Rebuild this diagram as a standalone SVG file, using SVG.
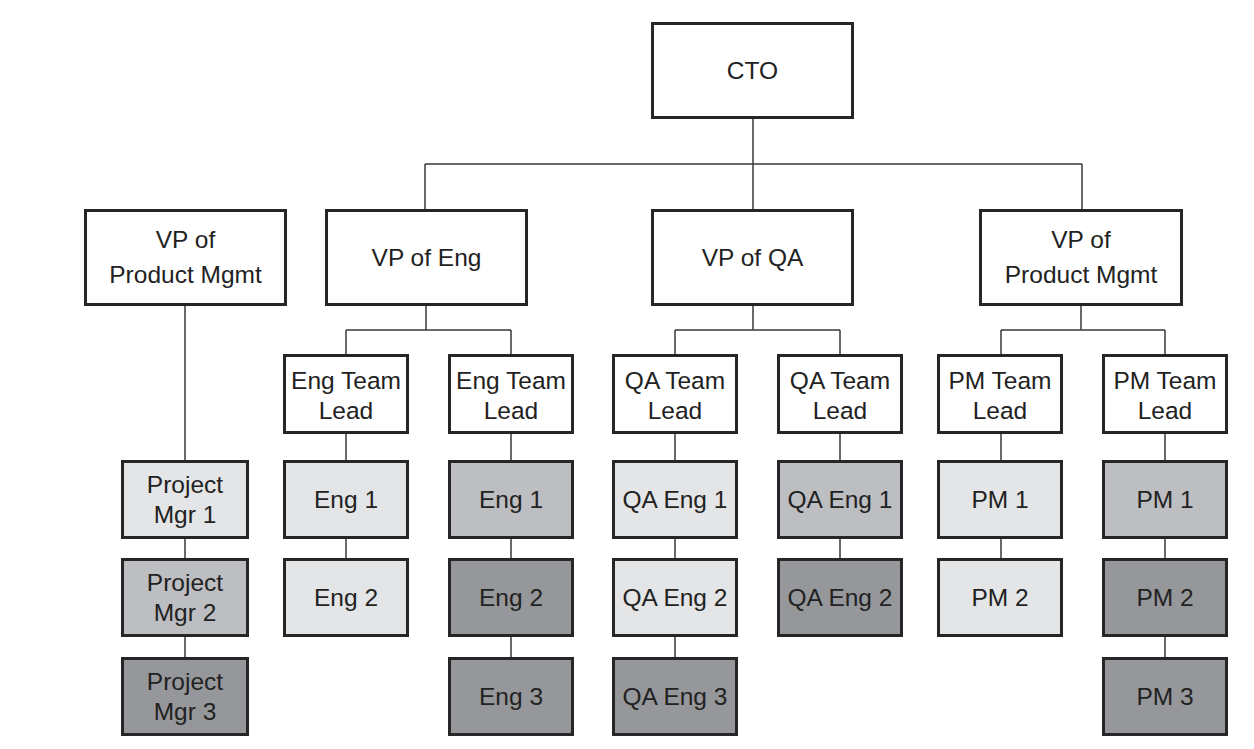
<svg xmlns="http://www.w3.org/2000/svg" width="1254" height="749" viewBox="0 0 1254 749">
<style>
  .box { stroke: #262626; stroke-width: 3; }
  .w { fill: #ffffff; }
  .l { fill: #e4e5e7; }
  .m { fill: #bdbec1; }
  .d { fill: #96979a; }
  .t { font-family: "Liberation Sans", Arial, sans-serif; font-size: 24.5px; fill: #222222; text-anchor: middle; }
  .c { fill: none; stroke: #3a3a3a; stroke-width: 1.5; }
</style>
<rect width="1254" height="749" fill="#ffffff"/>
<g id="connectors">
  <path class="c" d="M753 119 V164 M425 164 H1082 M425 164 V209 M753 164 V209 M1082 164 V209"/>
  <path class="c" d="M185 306 V460 M185 539 V558 M185 637 V657"/>
  <path class="c" d="M426 306 V330 M346 330 H511 M346 330 V354 M511 330 V354"/>
  <path class="c" d="M753 306 V330 M675 330 H840 M675 330 V354 M840 330 V354"/>
  <path class="c" d="M1081 306 V330 M1001 330 H1165 M1001 330 V354 M1165 330 V354"/>
  <path class="c" d="M346 434 V460 M346 539 V558"/>
  <path class="c" d="M511 434 V460 M511 539 V558 M511 637 V657"/>
  <path class="c" d="M675 434 V460 M675 539 V558 M675 637 V657"/>
  <path class="c" d="M840 434 V460 M840 539 V558"/>
  <path class="c" d="M1001 434 V460 M1001 539 V558"/>
  <path class="c" d="M1165 434 V460 M1165 539 V558 M1165 637 V657"/>
</g>
<g id="cto"><rect class="box w" x="652.5" y="23.5" width="200" height="94"/><text class="t" x="752.5" y="79">CTO</text></g>
<g id="vp-pm-left"><rect class="box w" x="85.5" y="210.5" width="200" height="94"/><text class="t" x="185.5" y="248">VP of</text><text class="t" x="185.5" y="283">Product Mgmt</text></g>
<g id="vp-eng"><rect class="box w" x="326.5" y="210.5" width="200" height="94"/><text class="t" x="426.5" y="266">VP of Eng</text></g>
<g id="vp-qa"><rect class="box w" x="652.5" y="210.5" width="200" height="94"/><text class="t" x="752.5" y="266">VP of QA</text></g>
<g id="vp-pm-right"><rect class="box w" x="980.5" y="210.5" width="201" height="94"/><text class="t" x="1081" y="248">VP of</text><text class="t" x="1081" y="283">Product Mgmt</text></g>

<g id="eng-tl-1"><rect class="box w" x="284.5" y="355.5" width="123" height="77"/><text class="t" x="346" y="389">Eng Team</text><text class="t" x="346" y="419">Lead</text></g>
<g id="eng-tl-2"><rect class="box w" x="449.5" y="355.5" width="123" height="77"/><text class="t" x="511" y="389">Eng Team</text><text class="t" x="511" y="419">Lead</text></g>
<g id="qa-tl-1"><rect class="box w" x="613.5" y="355.5" width="123" height="77"/><text class="t" x="675" y="389">QA Team</text><text class="t" x="675" y="419">Lead</text></g>
<g id="qa-tl-2"><rect class="box w" x="778.5" y="355.5" width="123" height="77"/><text class="t" x="840" y="389">QA Team</text><text class="t" x="840" y="419">Lead</text></g>
<g id="pm-tl-1"><rect class="box w" x="938.5" y="355.5" width="123" height="77"/><text class="t" x="1000" y="389">PM Team</text><text class="t" x="1000" y="419">Lead</text></g>
<g id="pm-tl-2"><rect class="box w" x="1103.5" y="355.5" width="123" height="77"/><text class="t" x="1165" y="389">PM Team</text><text class="t" x="1165" y="419">Lead</text></g>

<g id="project-mgr-1"><rect class="box l" x="122.5" y="461.5" width="125" height="76"/><text class="t" x="185" y="493">Project</text><text class="t" x="185" y="523">Mgr 1</text></g>
<g id="project-mgr-2"><rect class="box m" x="122.5" y="559.5" width="125" height="76"/><text class="t" x="185" y="591">Project</text><text class="t" x="185" y="621">Mgr 2</text></g>
<g id="project-mgr-3"><rect class="box d" x="122.5" y="658.5" width="125" height="76"/><text class="t" x="185" y="690">Project</text><text class="t" x="185" y="720">Mgr 3</text></g>

<g id="eng-a-1"><rect class="box l" x="284.5" y="461.5" width="123" height="76"/><text class="t" x="346" y="508">Eng 1</text></g>
<g id="eng-a-2"><rect class="box l" x="284.5" y="559.5" width="123" height="76"/><text class="t" x="346" y="606">Eng 2</text></g>

<g id="eng-b-1"><rect class="box m" x="449.5" y="461.5" width="123" height="76"/><text class="t" x="511" y="508">Eng 1</text></g>
<g id="eng-b-2"><rect class="box d" x="449.5" y="559.5" width="123" height="76"/><text class="t" x="511" y="606">Eng 2</text></g>
<g id="eng-b-3"><rect class="box d" x="449.5" y="658.5" width="123" height="76"/><text class="t" x="511" y="705">Eng 3</text></g>

<g id="qa-a-1"><rect class="box l" x="613.5" y="461.5" width="123" height="76"/><text class="t" x="675" y="508">QA Eng 1</text></g>
<g id="qa-a-2"><rect class="box l" x="613.5" y="559.5" width="123" height="76"/><text class="t" x="675" y="606">QA Eng 2</text></g>
<g id="qa-a-3"><rect class="box d" x="613.5" y="658.5" width="123" height="76"/><text class="t" x="675" y="705">QA Eng 3</text></g>

<g id="qa-b-1"><rect class="box m" x="778.5" y="461.5" width="123" height="76"/><text class="t" x="840" y="508">QA Eng 1</text></g>
<g id="qa-b-2"><rect class="box d" x="778.5" y="559.5" width="123" height="76"/><text class="t" x="840" y="606">QA Eng 2</text></g>

<g id="pm-a-1"><rect class="box l" x="938.5" y="461.5" width="123" height="76"/><text class="t" x="1000" y="508">PM 1</text></g>
<g id="pm-a-2"><rect class="box l" x="938.5" y="559.5" width="123" height="76"/><text class="t" x="1000" y="606">PM 2</text></g>

<g id="pm-b-1"><rect class="box m" x="1103.5" y="461.5" width="123" height="76"/><text class="t" x="1165" y="508">PM 1</text></g>
<g id="pm-b-2"><rect class="box d" x="1103.5" y="559.5" width="123" height="76"/><text class="t" x="1165" y="606">PM 2</text></g>
<g id="pm-b-3"><rect class="box d" x="1103.5" y="658.5" width="123" height="76"/><text class="t" x="1165" y="705">PM 3</text></g>
</svg>
